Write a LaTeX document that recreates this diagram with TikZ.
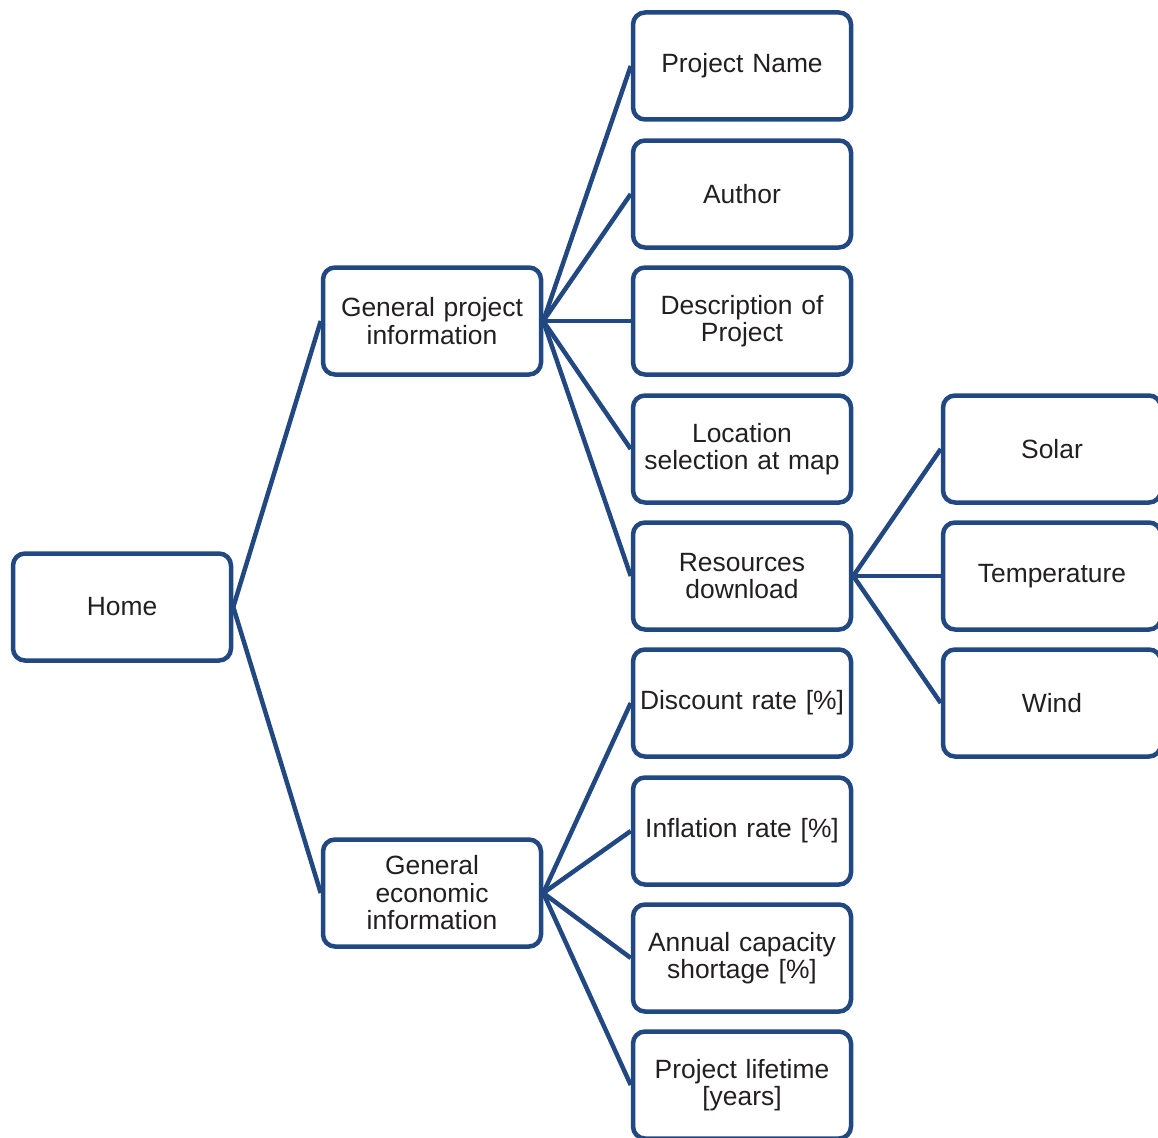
\documentclass[tikz,border=0pt]{standalone}
\usepackage{fontspec}
\setmainfont{Liberation Sans}
\definecolor{boxblue}{RGB}{34,72,130}
\definecolor{txt}{RGB}{35,31,32}
\begin{document}
\begin{tikzpicture}[x=1pt,y=-1pt,
  menubox/.style={draw=boxblue, line width=4.5pt, rounded corners=12pt, fill=white,
    minimum width=218pt, minimum height=107pt, inner sep=0pt,
    text width=214pt, align=center, text=txt,
    font=\fontsize{26.4}{27.5}\selectfont},
  link/.style={draw=boxblue, line width=4.5pt}]
\useasboundingbox (0,0) rectangle (1158,1137);

% root and second level
\node[menubox] (home) at (122,607) {Home};
\node[menubox] (gpi) at (432,321) {General project\\information};
\node[menubox] (gei) at (432,893) {General\\economic\\information};

% project information items
\node[menubox] (name) at (742,66)   {Project Name};
\node[menubox] (auth) at (742,194)  {Author};
\node[menubox] (desc) at (742,321)  {Description of\\Project};
\node[menubox] (loc)  at (742,449)  {Location\\selection at map};
\node[menubox] (res)  at (742,576)  {Resources\\download};

% economic items
\node[menubox] (disc) at (742,703)  {Discount rate [\%]};
\node[menubox] (infl) at (742,831)  {Inflation rate [\%]};
\node[menubox] (ann)  at (742,958)  {Annual capacity\\shortage [\%]};
\node[menubox] (life) at (742,1085) {Project lifetime\\{[years]}};

% resource types
\node[menubox] (sol)  at (1052,449) {Solar};
\node[menubox] (temp) at (1052,576) {Temperature};
\node[menubox] (wind) at (1052,703) {Wind};

% connectors
\foreach \a/\b in {home/gpi, home/gei,
                   gpi/name, gpi/auth, gpi/desc, gpi/loc, gpi/res,
                   gei/disc, gei/infl, gei/ann, gei/life,
                   res/sol, res/temp, res/wind}
  \draw[link] (\a.east) -- (\b.west);
\end{tikzpicture}
\end{document}
